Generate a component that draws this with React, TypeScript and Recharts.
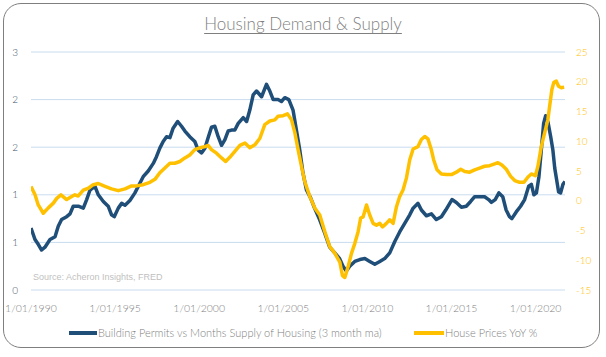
import React from 'react';
import { LineChart, Line, XAxis, YAxis, CartesianGrid } from 'recharts';

// Building Permits vs Months Supply of Housing (3 month ma) — left axis
const permitYears = [
  1990.0, 1990.24, 1990.43, 1990.63, 1990.83, 1991.13, 1991.43, 1991.62, 1991.82, 1992.12,
  1992.32, 1992.51, 1992.81, 1993.11, 1993.31, 1993.51, 1993.8, 1994.0, 1994.3, 1994.59,
  1994.79, 1994.95, 1995.19, 1995.39, 1995.59, 1995.88, 1996.18, 1996.67, 1996.97, 1997.27,
  1997.46, 1997.66, 1997.86, 1998.06, 1998.26, 1998.45, 1998.72, 1998.95, 1999.15, 1999.44,
  1999.74, 1999.94, 2000.14, 2000.34, 2000.53, 2000.73, 2000.93, 2001.13, 2001.33, 2001.53,
  2001.72, 2001.92, 2002.12, 2002.32, 2002.62, 2002.82, 2003.01, 2003.21, 2003.41, 2003.71,
  2004.0, 2004.2, 2004.4, 2004.69, 2004.89, 2005.09, 2005.33, 2005.58, 2005.78, 2005.98,
  2006.17, 2006.38, 2006.63, 2006.86, 2007.16, 2007.46, 2007.76, 2008.06, 2008.35, 2008.55,
  2008.75, 2008.95, 2009.25, 2009.55, 2009.85, 2010.14, 2010.44, 2010.74, 2011.03, 2011.33,
  2011.63, 2011.92, 2012.22, 2012.52, 2012.72, 2013.01, 2013.21, 2013.51, 2013.81, 2014.1,
  2014.4, 2014.66, 2015.03, 2015.29, 2015.59, 2015.88, 2016.14, 2016.38, 2016.67, 2016.97,
  2017.21, 2017.37, 2017.6, 2017.82, 2018.05, 2018.25, 2018.45, 2018.59, 2018.85, 2019.11,
  2019.35, 2019.59, 2019.75, 2019.9, 2020.05, 2020.2, 2020.34, 2020.48, 2020.6, 2020.74,
  2020.9, 2021.03, 2021.14, 2021.25, 2021.37, 2021.49, 2021.63, 2021.75,
];
const permitValues = [
  0.65, 0.53, 0.48, 0.42, 0.45, 0.53, 0.56, 0.67, 0.74, 0.77,
  0.8, 0.88, 0.88, 0.86, 0.95, 1.05, 1.09, 1.0, 0.93, 0.88,
  0.79, 0.77, 0.86, 0.91, 0.89, 0.94, 1.02, 1.19, 1.25, 1.33,
  1.4, 1.49, 1.56, 1.61, 1.6, 1.7, 1.77, 1.72, 1.67, 1.61,
  1.56, 1.47, 1.44, 1.49, 1.6, 1.71, 1.72, 1.61, 1.52, 1.58,
  1.67, 1.68, 1.68, 1.75, 1.81, 1.77, 1.89, 2.05, 2.09, 2.03,
  2.16, 2.09, 2.0, 2.0, 1.98, 2.02, 2.0, 1.89, 1.68, 1.47,
  1.23, 1.05, 0.965, 0.86, 0.74, 0.6, 0.45, 0.39, 0.33, 0.25,
  0.2, 0.25, 0.3, 0.32, 0.33, 0.3, 0.27, 0.3, 0.33, 0.39,
  0.51, 0.61, 0.7, 0.79, 0.86, 0.91, 0.84, 0.78, 0.8, 0.74,
  0.77, 0.84, 0.95, 0.92, 0.87, 0.88, 0.93, 0.98, 0.98, 0.98,
  0.95, 0.92, 0.95, 1.02, 0.98, 0.84, 0.77, 0.75, 0.82, 0.88,
  0.95, 1.09, 1.11, 1.0, 1.02, 1.19, 1.47, 1.75, 1.83, 1.76,
  1.61, 1.47, 1.28, 1.16, 1.03, 1.02, 1.11, 1.14,
];

// House Prices YoY % — right axis
const priceYears = [
  1990.0, 1990.24, 1990.43, 1990.73, 1991.03, 1991.33, 1991.53, 1991.78, 1992.12, 1992.42,
  1992.61, 1992.81, 1993.11, 1993.41, 1993.7, 1994.0, 1994.4, 1994.79, 1995.19, 1995.59,
  1995.98, 1996.28, 1996.67, 1997.07, 1997.37, 1997.66, 1997.96, 1998.26, 1998.55, 1998.85,
  1999.15, 1999.44, 1999.74, 2000.04, 2000.34, 2000.53, 2000.73, 2001.03, 2001.33, 2001.57,
  2001.82, 2002.12, 2002.42, 2002.72, 2003.01, 2003.31, 2003.61, 2003.9, 2004.2, 2004.5,
  2004.69, 2004.99, 2005.25, 2005.49, 2005.69, 2005.88, 2006.08, 2006.28, 2006.58, 2006.87,
  2007.17, 2007.47, 2007.76, 2008.06, 2008.36, 2008.52, 2008.66, 2008.86, 2009.06, 2009.25,
  2009.45, 2009.6, 2009.75, 2009.95, 2010.14, 2010.34, 2010.54, 2010.74, 2010.9, 2011.13,
  2011.33, 2011.53, 2011.73, 2011.92, 2012.12, 2012.32, 2012.52, 2012.72, 2013.01, 2013.21,
  2013.41, 2013.6, 2013.8, 2013.94, 2014.14, 2014.4, 2014.7, 2015.0, 2015.29, 2015.55,
  2015.79, 2016.08, 2016.38, 2016.67, 2016.97, 2017.27, 2017.57, 2017.76, 2018.0, 2018.26,
  2018.52, 2018.76, 2019.05, 2019.31, 2019.55, 2019.75, 2019.99, 2020.14, 2020.34, 2020.54,
  2020.73, 2020.89, 2020.97, 2021.09, 2021.23, 2021.37, 2021.53, 2021.7,
];
const priceValues = [
  2.4, 1.0, -0.7, -2.1, -1.2, -0.4, 0.4, 1.0, 0.2, 0.7,
  1.0, 0.8, 1.8, 2.1, 2.7, 2.9, 2.4, 2.0, 1.7, 2.0,
  2.5, 2.5, 2.7, 3.1, 3.6, 4.7, 5.5, 6.3, 6.3, 6.6,
  7.2, 7.7, 8.6, 8.9, 9.1, 9.3, 8.6, 8.0, 7.2, 6.6,
  7.3, 8.3, 9.3, 9.7, 8.9, 9.4, 10.5, 12.8, 13.4, 13.6,
  14.2, 14.3, 14.6, 13.6, 11.4, 8.6, 5.8, 3.2, 0.7, -1.2,
  -2.4, -5.2, -7.7, -8.8, -10.3, -12.6, -12.9, -11.0, -8.8, -7.2,
  -5.2, -2.9, -2.7, -0.7, -2.4, -3.8, -4.1, -3.8, -4.4, -3.8,
  -3.2, -3.8, -1.0, 0.7, 1.8, 3.8, 6.9, 8.7, 9.1, 10.3,
  10.8, 10.4, 8.6, 6.9, 5.2, 4.5, 4.4, 4.4, 4.8, 5.3,
  4.9, 4.8, 5.2, 5.5, 5.8, 5.9, 6.2, 6.4, 6.0, 5.3,
  4.1, 3.4, 3.1, 3.1, 4.0, 4.5, 4.2, 5.8, 9.1, 11.4,
  13.6, 17.0, 18.7, 19.9, 20.1, 19.25, 19.0, 19.1,
];

const xTicks = [1990, 1995, 2000, 2005, 2010, 2015, 2020];
const leftTicks = [0, 0.5, 1, 1.5, 2, 2.5];
const rightTicks = [-15, -10, -5, 0, 5, 10, 15, 20, 25];

const permitLabel = 'Building Permits vs Months Supply of Housing (3 month ma)';
const priceLabel = 'House Prices YoY %';
const titleText = 'Housing Demand & Supply';
const sourceText = 'Source: Acheron Insights, FRED';

const BLUE = '#1F4E79';
const YELLOW = '#FFC000';
const FONT = 'Lato, "Open Sans", sans-serif';

export default function App() {
  const blueData = permitYears.map((t, i) => ({ t, v: permitValues[i] }));
  const yellowData = priceYears.map((t, i) => ({ t, v: priceValues[i] }));

  return (
    <div style={{ position: 'absolute', left: 0, top: 0, width: 606, height: 357, background: '#fff', fontFamily: FONT, fontWeight: 300 }}>
      <div style={{ position: 'absolute', left: 3, top: 3, width: 597, height: 345, border: '1px solid #7f7f7f', borderRadius: 18, boxSizing: 'border-box' }} />
      <div style={{ position: 'absolute', left: 0, top: 14, width: 606, textAlign: 'center', fontSize: 17, fontWeight: 300, color: '#7f7f7f', textDecoration: 'underline', textDecorationThickness: 1, textUnderlineOffset: 3, lineHeight: '20px' }}>
        {titleText}
      </div>
      <div style={{ position: 'absolute', left: 0, top: 0 }}>
        <LineChart width={606} height={357} margin={{ top: 52, right: 0, bottom: 37, left: 0 }}>
          <CartesianGrid yAxisId="left" vertical={false} stroke="#c9dcef" strokeWidth={1} />
          <XAxis
            type="number"
            dataKey="t"
            domain={[1990, 2021.75]}
            ticks={xTicks}
            allowDataOverflow
            tickFormatter={(v: number) => `1/01/${v}`}
            axisLine={false}
            tickLine={false}
            tickSize={0}
            tickMargin={15}
            height={30}
            tick={{ fill: '#7f7f7f', fontSize: 10.5, fontFamily: FONT, fontWeight: 300 }}
            interval={0}
          />
          <YAxis
            yAxisId="left"
            orientation="left"
            domain={[0, 2.5]}
            ticks={leftTicks}
            width={31}
            axisLine={false}
            tickLine={false}
            tickSize={0}
            tickMargin={13}
            tickFormatter={(v: number) => `${Math.round(v)}`}
            tick={{ fill: '#44546A', fontSize: 10, fontFamily: FONT, fontWeight: 300 }}
            interval={0}
          />
          <YAxis
            yAxisId="right"
            orientation="right"
            domain={[-15, 25]}
            ticks={rightTicks}
            width={41}
            axisLine={false}
            tickLine={false}
            tickSize={0}
            tickMargin={11}
            tick={{ fill: YELLOW, fontSize: 10, fontFamily: FONT, fontWeight: 300 }}
            interval={0}
          />
          <Line
            data={blueData}
            yAxisId="left"
            dataKey="v"
            type="linear"
            stroke={BLUE}
            strokeWidth={3.5}
            dot={false}
            isAnimationActive={false}
            strokeLinejoin="round"
          />
          <Line
            data={yellowData}
            yAxisId="right"
            dataKey="v"
            type="linear"
            stroke={YELLOW}
            strokeWidth={3.5}
            dot={false}
            isAnimationActive={false}
            strokeLinejoin="round"
          />
        </LineChart>
      </div>
      <div style={{ position: 'absolute', left: 33, top: 271, fontFamily: '"Liberation Sans", Arial, sans-serif', fontWeight: 400, fontSize: 9, color: '#bfbfbf', lineHeight: '12px', whiteSpace: 'nowrap' }}>
        {sourceText}
      </div>
      <div style={{ position: 'absolute', left: 0, top: 326, width: 606, height: 14, fontSize: 11, fontWeight: 300, color: '#7f7f7f', lineHeight: '14px', whiteSpace: 'nowrap' }}>
        <div style={{ position: 'absolute', left: 69, top: 5, width: 28, height: 4, background: BLUE }} />
        <div style={{ position: 'absolute', left: 98, top: 0 }}>{permitLabel}</div>
        <div style={{ position: 'absolute', left: 414, top: 5, width: 30, height: 4, background: YELLOW }} />
        <div style={{ position: 'absolute', left: 445, top: 0 }}>{priceLabel}</div>
      </div>
    </div>
  );
}
